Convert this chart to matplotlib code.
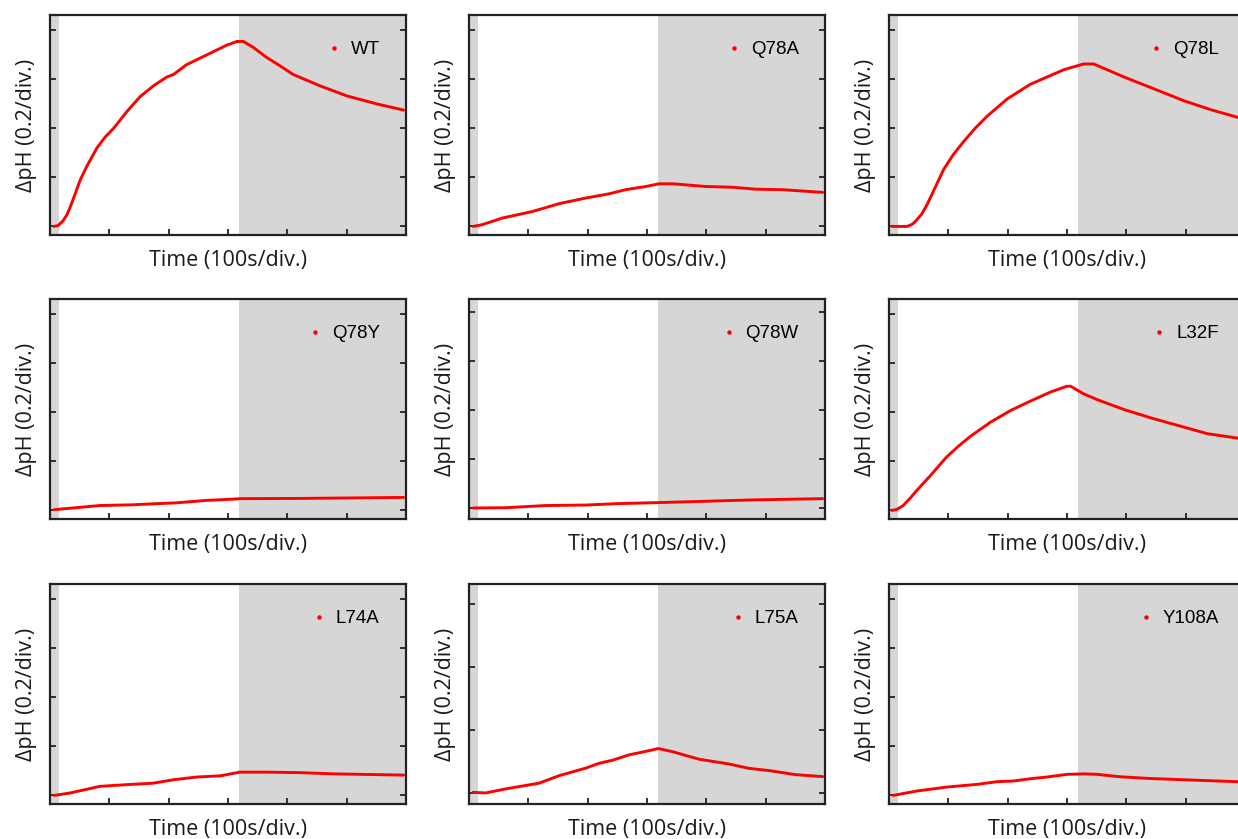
import matplotlib
matplotlib.use("Agg")
import matplotlib.pyplot as plt
from matplotlib.lines import Line2D

# ---- data (x in 100 s divisions, y in pH units) ----
names = ["WT", "Q78A", "Q78L", "Q78Y", "Q78W", "L32F", "L74A", "L75A", "Y108A"]

wt_t = [0.07, 0.14, 0.22, 0.28, 0.34, 0.42, 0.51, 0.62, 0.79, 0.93, 1.07, 1.30, 1.52, 1.75, 1.97, 2.08, 2.30, 2.64, 2.98, 3.15, 3.26, 3.43, 3.65, 3.88, 4.10, 4.55, 5.00, 5.51, 5.96]
wt_ph = [0.0, 0.004, 0.023, 0.045, 0.078, 0.13, 0.19, 0.245, 0.32, 0.365, 0.40, 0.47, 0.53, 0.575, 0.61, 0.62, 0.66, 0.70, 0.74, 0.755, 0.755, 0.73, 0.69, 0.655, 0.62, 0.574, 0.533, 0.50, 0.475]

q78a_t = [0.07, 0.22, 0.56, 1.07, 1.52, 1.97, 2.36, 2.64, 2.98, 3.20, 3.43, 3.99, 4.44, 4.83, 5.28, 5.96]
q78a_ph = [0.0, 0.007, 0.034, 0.061, 0.093, 0.116, 0.133, 0.15, 0.163, 0.174, 0.174, 0.163, 0.16, 0.152, 0.15, 0.139]

q78l_t = [0.05, 0.31, 0.40, 0.47, 0.55, 0.64, 0.78, 0.92, 1.08, 1.26, 1.45, 1.65, 1.99, 2.38, 2.95, 3.28, 3.45, 3.96, 4.41, 4.97, 5.43, 5.88, 6.0]
q78l_ph = [0.0, 0.0, 0.01, 0.027, 0.05, 0.088, 0.16, 0.232, 0.292, 0.347, 0.40, 0.449, 0.52, 0.58, 0.64, 0.663, 0.663, 0.61, 0.567, 0.513, 0.476, 0.445, 0.437]

q78y_t = [0.07, 0.84, 1.40, 1.74, 2.13, 2.64, 3.09, 3.20, 4.21, 5.96]
q78y_ph = [0.003, 0.02, 0.023, 0.027, 0.031, 0.041, 0.046, 0.048, 0.049, 0.053]

q78w_t = [0.07, 0.62, 1.29, 1.97, 2.53, 3.20, 3.93, 4.78, 5.96]
q78w_ph = [0.0, 0.001, 0.01, 0.012, 0.018, 0.022, 0.027, 0.033, 0.038]

l32f_t = [0.05, 0.13, 0.24, 0.35, 0.47, 0.69, 0.97, 1.17, 1.37, 1.71, 2.05, 2.38, 2.72, 3.00, 3.06, 3.28, 3.51, 3.96, 4.41, 4.97, 5.37, 5.88, 6.0]
l32f_ph = [0.0, 0.004, 0.02, 0.048, 0.082, 0.14, 0.218, 0.262, 0.302, 0.36, 0.408, 0.446, 0.483, 0.507, 0.507, 0.476, 0.452, 0.412, 0.378, 0.34, 0.313, 0.295, 0.291]

l74a_t = [0.07, 0.34, 0.84, 1.29, 1.74, 2.08, 2.47, 2.87, 3.20, 3.65, 4.21, 4.78, 5.96]
l74a_ph = [0.0, 0.01, 0.037, 0.044, 0.05, 0.064, 0.075, 0.08, 0.095, 0.095, 0.093, 0.088, 0.083]

l75a_t = [0.07, 0.28, 0.62, 1.18, 1.52, 1.97, 2.19, 2.42, 2.70, 3.03, 3.19, 3.43, 3.88, 4.38, 4.72, 5.06, 5.51, 5.96]
l75a_ph = [0.002, 0.0, 0.013, 0.031, 0.055, 0.079, 0.094, 0.104, 0.121, 0.134, 0.141, 0.131, 0.107, 0.092, 0.078, 0.071, 0.058, 0.052]

y108a_t = [0.07, 0.47, 0.97, 1.48, 1.82, 2.10, 2.38, 2.66, 3.00, 3.28, 3.51, 3.90, 4.41, 4.97, 5.88, 6.0]
y108a_ph = [0.0, 0.018, 0.034, 0.045, 0.056, 0.059, 0.068, 0.075, 0.086, 0.088, 0.086, 0.076, 0.069, 0.064, 0.056, 0.055]

series_t = [wt_t, q78a_t, q78l_t, q78y_t, q78w_t, l32f_t, l74a_t, l75a_t, y108a_t]
series_ph = [wt_ph, q78a_ph, q78l_ph, q78y_ph, q78w_ph, l32f_ph, l74a_ph, l75a_ph, y108a_ph]

x_ticks = [1, 2, 3, 4, 5]
y_ticks_std = [0.0, 0.2, 0.4, 0.6, 0.8]
y_ticks_l75a = [0.0, 0.2, 0.4, 0.6]
light_on_start = 0.15
light_off_start = 3.18

# ---- figure ----
W, H = 1238, 839
fig = plt.figure(figsize=(W / 100, H / 100), dpi=100)

col_left = [50, 469, 889]
row_top = [15, 299, 584]
ax_w, ax_h = 356, 220

label_font = "Open Sans"
legend_font = "Liberation Sans"

for i, name in enumerate(names):
    r, c = divmod(i, 3)
    left = col_left[c] / W
    bottom = 1 - (row_top[r] + ax_h) / H
    ax = fig.add_axes([left, bottom, ax_w / W, ax_h / H])

    ax.axvspan(0, light_on_start, color="#d6d6d6", lw=0, zorder=0)
    ax.axvspan(light_off_start, 6, color="#d6d6d6", lw=0, zorder=0)

    ax.plot(series_t[i], series_ph[i], color="#ff0000", lw=2.1, solid_capstyle="round",
            solid_joinstyle="round", zorder=3)

    ax.set_xlim(0, 6)
    if name == "L75A":
        ax.set_ylim(-0.035, 0.663)
        ax.set_yticks(y_ticks_l75a)
    elif name == "Q78W":
        ax.set_ylim(-0.045, 0.853)
        ax.set_yticks(y_ticks_std)
    else:
        ax.set_ylim(-0.035, 0.863)
        ax.set_yticks(y_ticks_std)
    ax.set_xticks(x_ticks)
    ax.set_xticklabels([])
    ax.set_yticklabels([])
    ax.tick_params(direction="in", length=4, width=1.3, left=True, right=True,
                   bottom=True, top=False, color="#222222")
    for sp in ax.spines.values():
        sp.set_linewidth(1.6)
        sp.set_color("#222222")

    ax.set_xlabel("Time (100s/div.)", fontfamily=label_font, fontsize=15.5,
                  labelpad=7.5, color="#1a1a1a")
    ax.set_ylabel("\u0394pH (0.2/div.)", fontfamily=label_font, fontsize=15.5,
                  labelpad=6, color="#1a1a1a")

    handle = Line2D([], [], color="#ff0000", marker="o", markersize=2.2, linestyle="none")
    leg = ax.legend([handle], [name], loc="upper right", frameon=False,
                    prop={"family": legend_font, "size": 13.5},
                    handlelength=0.9, handletextpad=0.45, borderaxespad=1.0)

fig.savefig("out.png", dpi=100)
